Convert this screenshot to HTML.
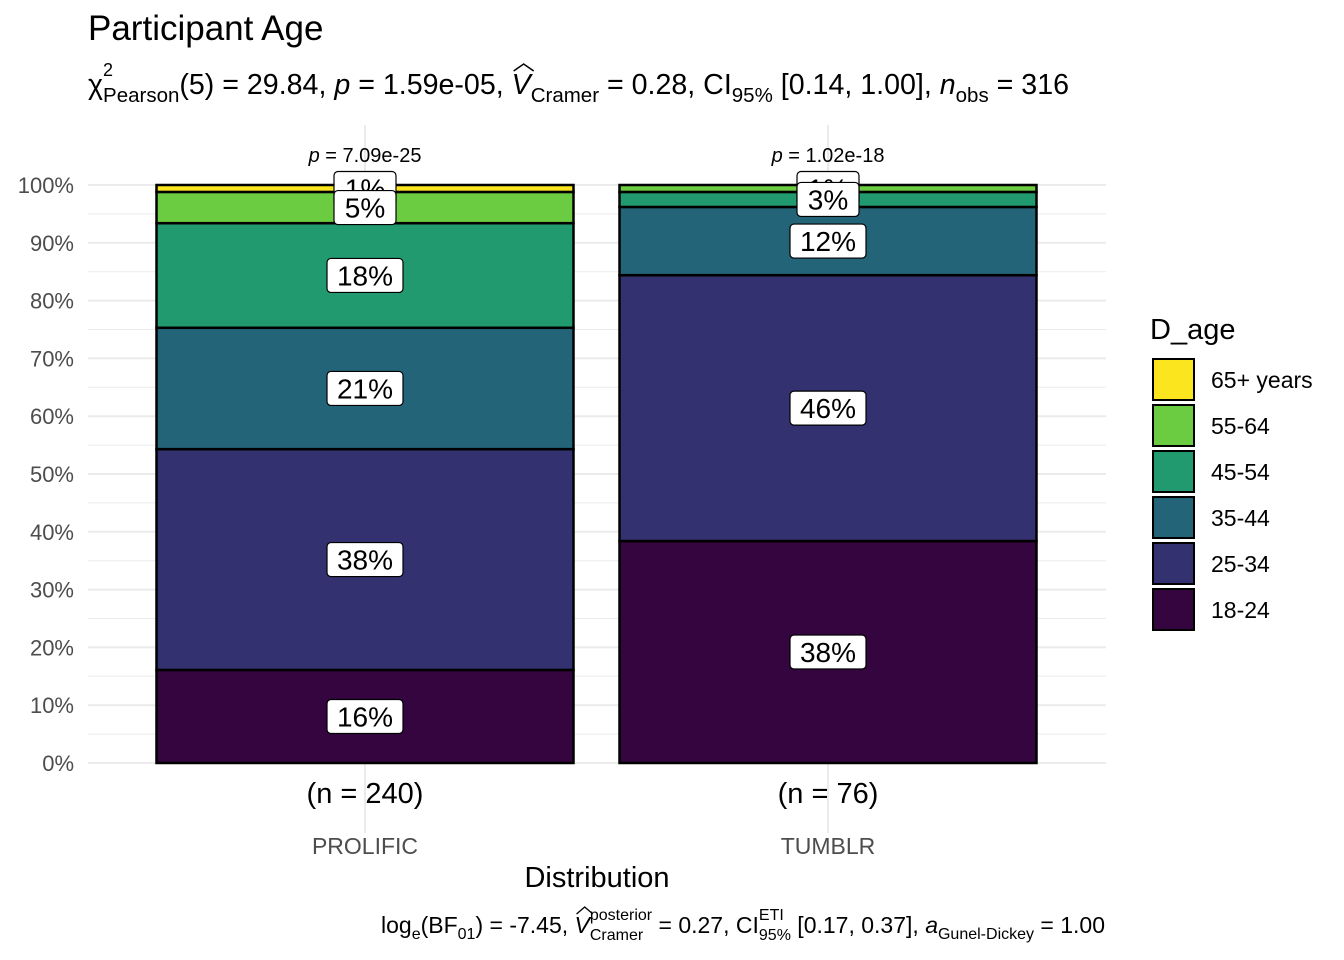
<!DOCTYPE html>
<html><head><meta charset="utf-8"><style>
body{margin:0;background:#fff;}
svg{display:block;font-family:"Liberation Sans",Arial,sans-serif;}
</style></head><body>
<svg id="chart" width="1344" height="960" viewBox="0 0 1344 960">
<text x="88" y="40" font-size="35" fill="#000">Participant Age</text>
<text id="sub" x="88" y="94" font-size="28.6" fill="#000">χ<tspan font-size="20.5" dy="8">Pearson</tspan><tspan dy="-8">(5) = 29.84, </tspan><tspan font-style="italic">p</tspan> = 1.59e-05, <tspan id="vhat" font-style="italic">V</tspan><tspan font-size="20.5" dy="8">Cramer</tspan><tspan dy="-8"> = 0.28, CI</tspan><tspan font-size="20.5" dy="8">95%</tspan><tspan dy="-8"> [0.14, 1.00], </tspan><tspan font-style="italic">n</tspan><tspan font-size="20.5" dy="8">obs</tspan><tspan dy="-8"> = 316</tspan></text>
<text x="103" y="76" font-size="18">2</text>
<path id="hat1" d="M0 0" fill="none" stroke="#000" stroke-width="1.5"/>
<g id="grid"></g>
<g id="bars"></g>
<g id="labels"></g>
<g id="axes"></g>
<g id="legend"></g>
<text x="597" y="887" font-size="29" text-anchor="middle">Distribution</text>
<text id="cap" x="1105" y="933" font-size="23" text-anchor="end">log<tspan font-size="16" dy="6">e</tspan><tspan dy="-6">(BF</tspan><tspan font-size="16" dy="6">01</tspan><tspan dy="-6">) = -7.45, </tspan><tspan id="vhat2" font-style="italic">V</tspan><tspan id="post" font-size="16" dy="-13">posterior</tspan><tspan id="cram" font-size="16" dy="20">Cramer</tspan><tspan id="after1" dy="-7"> = 0.27, CI</tspan><tspan id="eti" font-size="16" dy="-13">ETI</tspan><tspan id="n95" font-size="16" dy="20">95%</tspan><tspan dy="-7"> [0.17, 0.37], </tspan><tspan font-style="italic">a</tspan><tspan font-size="16" dy="6">Gunel-Dickey</tspan><tspan dy="-6"> = 1.00</tspan></text>
<path id="hat2" d="M0 0" fill="none" stroke="#000" stroke-width="1.3"/>
</svg>
<script>
const categories=["PROLIFIC","TUMBLR"];
const counts=[240,76];
const pvals=["7.09e-25","1.02e-18"];
const levels=["18-24","25-34","35-44","45-54","55-64","65+ years"];
const colors=["#35053f","#33316f","#236479","#229a6f","#6bcc41","#fbe51f"];
const prolific=[16.1,38.2,21.0,18.1,5.4,1.2];
const tumblr=[38.4,46.0,11.8,2.6,1.2,0.0];
const series=[prolific,tumblr];
const yTicks=[0,10,20,30,40,50,60,70,80,90,100];
const NS="http://www.w3.org/2000/svg";
const y0=763,y1=185,px0=88,px1=1106;
const y=v=>y0-(y0-y1)*v/100;
const xc=i=>365+i*463;
const bw=417;
function mk(tag,attrs,parent,txt){const e=document.createElementNS(NS,tag);for(const k in attrs)e.setAttribute(k,attrs[k]);if(txt!==undefined)e.textContent=txt;document.getElementById(parent).appendChild(e);return e;}
for(let v=0;v<=100;v+=5){const l=mk("line",{x1:px0,x2:px1,y1:y(v),y2:y(v),stroke:"#ebebeb","stroke-width":v%10?1:2},"grid");

}
categories.forEach((c,i)=>{const l=mk("line",{x1:xc(i),x2:xc(i),y1:125,y2:y0+70,stroke:"#ebebeb","stroke-width":2},"grid");

});
yTicks.forEach(t=>{const e=mk("text",{x:74,y:y(t)+8,"font-size":22,"text-anchor":"end",fill:"#4d4d4d"},"axes",t+"%");

});
categories.forEach((c,i)=>{
 let e=mk("text",{x:xc(i),y:854,"font-size":23,"text-anchor":"middle",fill:"#4d4d4d"},"axes",c);
 
 
 e=mk("text",{x:xc(i),y:803,"font-size":29,"text-anchor":"middle"},"axes","(n = "+counts[i]+")");
 
 
 e=mk("text",{x:xc(i),y:162,"font-size":20,"text-anchor":"middle"},"axes","");
 e.innerHTML='<tspan font-style="italic">p</tspan> = '+pvals[i];
 
 
 let cum=0;const mids=[];
 series[i].forEach((v,k)=>{
  if(v<=0)return;
  const r=mk("rect",{x:xc(i)-bw/2,y:y(cum+v),width:bw,height:y(cum)-y(cum+v),fill:colors[k],stroke:"#000","stroke-width":2.5},"bars");
  
  
  mids.push([y(cum+v/2),Math.round(v)+"%"]);
  cum+=v;});
 mids.reverse().forEach(([mid,txt])=>{
  const w=txt.length*14+34;
  const b=mk("rect",{x:xc(i)-w/2,y:mid-17,width:w,height:34,rx:4,fill:"#fff",stroke:"#000","stroke-width":1.2},"labels");
  
  
  const t=mk("text",{x:xc(i),y:mid+10,"font-size":28,"text-anchor":"middle"},"labels",txt);
  
  
 });
});
let lt=mk("text",{x:1150,y:339,"font-size":29},"legend","D_age");


for(let k=levels.length-1,j=0;k>=0;k--,j++){
 const r=mk("rect",{x:1153,y:359+j*46,width:41,height:41,fill:colors[k],stroke:"#000","stroke-width":2},"legend");
 
 
 const t=mk("text",{x:1211,y:388+j*46,"font-size":23,fill:"#000"},"legend",levels[k]);
 
 
}
try{
 const post=document.getElementById('post'),cram=document.getElementById('cram');
 const pw=post.getComputedTextLength(),cw=cram.getComputedTextLength();
 cram.setAttribute('dx',-pw);
 document.getElementById('after1').setAttribute('dx',Math.max(0,pw-cw));
 const eti=document.getElementById('eti');document.getElementById('n95').setAttribute('dx',-eti.getComputedTextLength());
 const cap=document.getElementById('cap'),sub=document.getElementById('sub');
 function hatFor(textEl,tsp,pathId,h){
  let pre=0;for(const node of textEl.childNodes){if(node===tsp)break;pre+=node.textContent.length;}
  const s=textEl.getStartPositionOfChar(pre),e=textEl.getEndPositionOfChar(pre);
  const top=s.y-h;const x0=s.x+2,x1=e.x+3,xm=(x0+x1)/2;
  document.getElementById(pathId).setAttribute('d',`M${x0} ${top} L${xm} ${top-7} L${x1} ${top}`);
 }
 hatFor(sub,document.getElementById('vhat'),'hat1',23);
 hatFor(cap,document.getElementById('vhat2'),'hat2',19);
}catch(err){}
</script>
</body></html>
